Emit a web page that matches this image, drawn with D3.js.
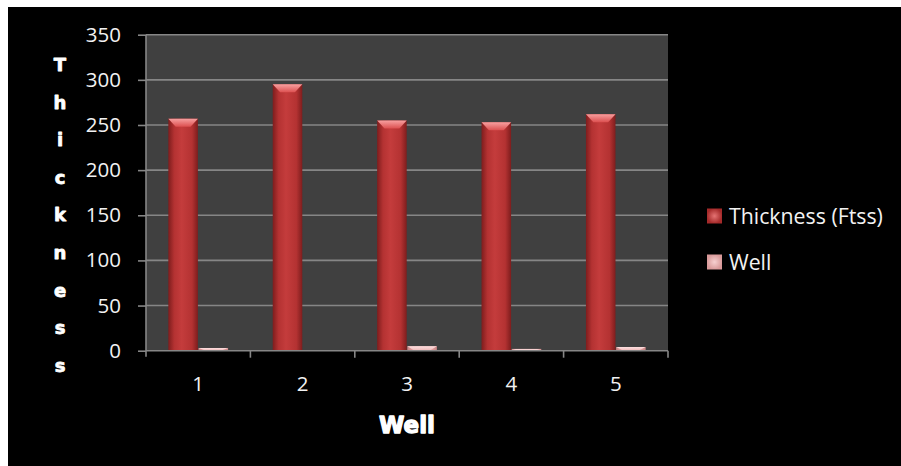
<!DOCTYPE html>
<html>
<head>
<meta charset="utf-8">
<script src="https://cdn.jsdelivr.net/npm/d3@7/dist/d3.min.js"></script>
<style>
  html, body { margin: 0; padding: 0; background: #ffffff; }
  svg { display: block; }
</style>
</head>
<body>
<svg id="chart" width="901" height="466"></svg>
<script>
// Well numbers along the x axis
const wells = ["1", "2", "3", "4", "5"];
// Series shown side by side in each group
const seriesNames = ["Thickness (Ftss)", "Well"];
// Thickness values per well
const thickness = [257, 295, 255, 253, 262];
// Second series values per well
const wellValues = [3, 0, 5, 2, 4];
// Value axis ticks
const yTicks = [0, 50, 100, 150, 200, 250, 300, 350];
const yTitle = "Thickness";
const xTitle = "Well";

const rows = wells.map((w, i) => ({ well: w, values: [thickness[i], wellValues[i]] }));

const svg = d3.select("#chart");
const W = 901, H = 466;

// black chart panel
svg.append("rect").attr("x", 8).attr("y", 7).attr("width", W - 8).attr("height", H - 7).attr("fill", "#000");

const plot = { left: 146, right: 668, top: 34.7, bottom: 350.7 };

const x = d3.scaleBand().domain(wells).range([plot.left, plot.right]).padding(0);
const xi = d3.scaleBand().domain(seriesNames).range([0, x.bandwidth()]).paddingInner(0.02).paddingOuter(0.74);
const y = d3.scaleLinear().domain([0, 350]).range([plot.bottom, plot.top]);

const defs = svg.append("defs");
function barGrad(id, edge, mid, hi) {
  const g = defs.append("linearGradient").attr("id", id).attr("x1", 0).attr("x2", 1).attr("y1", 0).attr("y2", 0);
  g.append("stop").attr("offset", "0%").attr("stop-color", edge);
  g.append("stop").attr("offset", "20%").attr("stop-color", mid);
  g.append("stop").attr("offset", "45%").attr("stop-color", hi);
  g.append("stop").attr("offset", "80%").attr("stop-color", mid);
  g.append("stop").attr("offset", "100%").attr("stop-color", edge);
}
barGrad("gThick", "#7e1d1d", "#b43232", "#c43c3c");
barGrad("gWell", "#c98484", "#e3a3a3", "#f0b8b8");
function capGrad(id, a, b) {
  const g = defs.append("linearGradient").attr("id", id).attr("x1", 0).attr("x2", 0).attr("y1", 0).attr("y2", 1);
  g.append("stop").attr("offset", "0%").attr("stop-color", a);
  g.append("stop").attr("offset", "100%").attr("stop-color", b);
}
capGrad("cThick", "#f7a0a0", "#dc5050");
capGrad("cWell", "#fde0e0", "#efb6b6");

// plot background
svg.append("rect").attr("x", plot.left).attr("y", plot.top)
  .attr("width", plot.right - plot.left).attr("height", plot.bottom - plot.top)
  .attr("fill", "#404040");

// horizontal gridlines
svg.append("g").selectAll("line").data(yTicks.filter(t => t > 0)).join("line")
  .attr("x1", plot.left).attr("x2", plot.right)
  .attr("y1", d => y(d)).attr("y2", d => y(d))
  .attr("stroke", "#868686").attr("stroke-width", 1.6);

// bars
const fills = ["url(#gThick)", "url(#gWell)"];
const caps = ["url(#cThick)", "url(#cWell)"];
const groups = svg.append("g").selectAll("g").data(rows).join("g")
  .attr("transform", d => `translate(${x(d.well)},0)`);

groups.each(function (d) {
  const g = d3.select(this);
  d.values.forEach((v, si) => {
    if (v <= 0) return;
    const bx = xi(seriesNames[si]);
    const bw = xi.bandwidth();
    const top = y(v);
    const h = plot.bottom - top;
    g.append("rect").attr("x", bx).attr("y", top).attr("width", bw).attr("height", h)
      .attr("fill", fills[si]);
    // bevelled top face
    const ch = Math.min(8, h);
    const inset = Math.min(8, bw / 4);
    g.append("path")
      .attr("d", `M${bx},${top} L${bx + bw},${top} L${bx + bw - inset},${top + ch} L${bx + inset},${top + ch} Z`)
      .attr("fill", caps[si]);
  });
});

// axes
const axisColor = "#868686";
const yAxis = svg.append("g").attr("transform", `translate(${plot.left},0)`)
  .call(d3.axisLeft(y).tickValues(yTicks).tickSize(8).tickPadding(17).tickFormat(d3.format("d")));
yAxis.select(".domain").remove();
yAxis.append("line").attr("x1", 0).attr("x2", 0).attr("y1", plot.top).attr("y2", plot.bottom + 6)
  .attr("stroke", axisColor).attr("stroke-width", 1.6);
yAxis.selectAll(".tick line").attr("stroke", axisColor).attr("stroke-width", 1.6);
yAxis.selectAll(".tick text").attr("fill", "#f2f2f2")
  .style("font-family", "'Open Sans', sans-serif").style("font-size", "20.5px");

const xBoundaries = [plot.left].concat(wells.map(w => x(w) + x.bandwidth()));
const xAxis = svg.append("g").attr("transform", `translate(0,${plot.bottom})`);
xAxis.append("line").attr("x1", plot.left).attr("x2", plot.right).attr("y1", 0).attr("y2", 0)
  .attr("stroke", axisColor).attr("stroke-width", 1.6);
xAxis.selectAll("line.tk").data(xBoundaries.slice(1)).join("line").attr("class", "tk")
  .attr("x1", d => d).attr("x2", d => d).attr("y1", 0).attr("y2", 7)
  .attr("stroke", axisColor).attr("stroke-width", 1.6);
xAxis.selectAll("text").data(wells).join("text")
  .attr("x", d => x(d) + x.bandwidth() / 2).attr("y", 40)
  .attr("text-anchor", "middle").attr("fill", "#f2f2f2")
  .style("font-family", "'Open Sans', sans-serif").style("font-size", "20.5px")
  .text(d => d);

// axis titles, in a heavy black-weight face (stroked to thicken the strokes)
const heavy = "'DejaVu Sans', 'Liberation Sans', sans-serif";
svg.append("text").attr("x", 407).attr("y", 433).attr("text-anchor", "middle")
  .attr("fill", "#fff").attr("stroke", "#fff").attr("stroke-width", 1.3).attr("stroke-linejoin", "round")
  .style("font-family", heavy).style("font-weight", 700).style("font-size", "23px")
  .text(xTitle);

const yt = svg.append("text").attr("fill", "#fff").attr("text-anchor", "middle")
  .attr("stroke", "#fff").attr("stroke-width", 0.8).attr("stroke-linejoin", "round")
  .style("font-family", heavy).style("font-weight", 700).style("font-size", "18px");
yTitle.split("").forEach((ch, i) => {
  yt.append("tspan").attr("x", 60).attr("y", 71 + i * 37.6).text(ch);
});

// legend
const legend = svg.append("g");
const legendY = [216, 262];
const swFill = [["#e57373", "#a52a2a"], ["#f6d0d0", "#d99a9a"]];
seriesNames.forEach((name, i) => {
  const gid = "lg" + i;
  const lg = defs.append("radialGradient").attr("id", gid);
  lg.append("stop").attr("offset", "0%").attr("stop-color", swFill[i][0]);
  lg.append("stop").attr("offset", "100%").attr("stop-color", swFill[i][1]);
  legend.append("rect").attr("x", 707).attr("y", legendY[i] - 7.5).attr("width", 15).attr("height", 15)
    .attr("fill", `url(#${gid})`);
  legend.append("text").attr("x", 729).attr("y", legendY[i] + 7.5)
    .attr("fill", "#f2f2f2").style("font-family", "'Open Sans', sans-serif").style("font-size", "21.3px")
    .text(name);
});
</script>
</body>
</html>
